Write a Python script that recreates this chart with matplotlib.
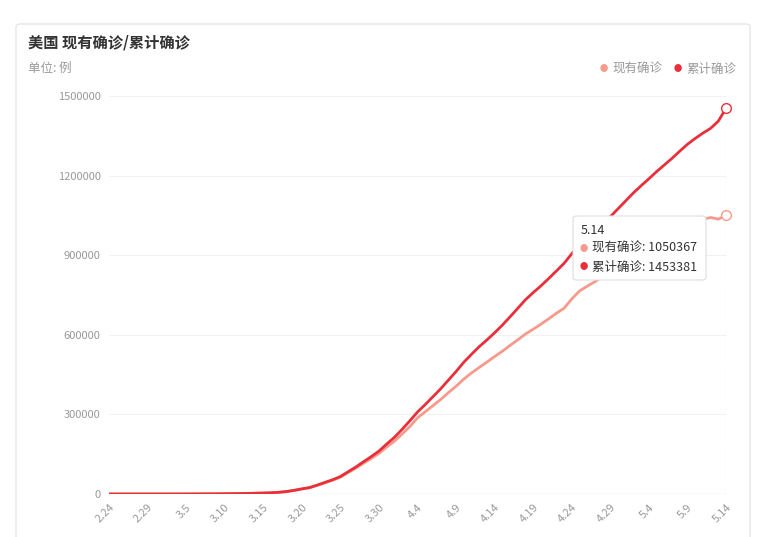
import matplotlib
matplotlib.use("Agg")
import matplotlib.pyplot as plt
from matplotlib.patches import FancyBboxPatch
import datetime as dt

plt.rcParams['font.family'] = ['Noto Sans CJK SC']

start = dt.date(2020, 2, 24)
dates = [start + dt.timedelta(days=i) for i in range(81)]
labels = [f"{d.month}.{d.day}" for d in dates]

cumulative = [35,53,57,60,60,62,75,
 100,124,158,221,319,435,541,704,994,
 1301,1697,2247,2943,3680,4663,6411,9259,13789,19383,
 24207,33566,43734,53740,65778,83836,101657,121478,140886,161807,188172,
 213372,243453,275586,308850,337072,366667,396223,429052,461437,496535,
 526396,555313,580619,607670,636350,667801,699706,732197,759086,784326,
 811865,840351,869170,905358,938154,965785,990000,1015000,1045000,1075000,
 1105000,1135000,1162000,1188000,1215000,1240000,1265000,1292000,1318000,1340000,
 1360000,1378000,1405000,1453381]
active = [30,46,50,52,52,53,64,
 86,108,140,198,290,400,500,655,930,
 1220,1600,2120,2800,3500,4450,6150,8900,13300,18700,
 23400,32400,42200,51800,63300,80600,97400,115900,133800,153000,177000,
 199000,226000,254000,287000,310000,333000,356000,382000,406000,433000,
 456000,477000,497000,518000,538000,560000,581000,603000,621000,640000,
 660000,681000,700000,735000,765000,783000,800000,820000,840000,862000,
 885000,905000,922000,940000,958000,975000,990000,1005000,1018000,1028000,
 1036000,1042000,1036000,1050367]

c_act = '#f79a8c'
c_cum = '#e8303a'

fig = plt.figure(figsize=(7.66, 5.37), dpi=100)
card = FancyBboxPatch((16/766, -0.02), 734/766, 1-24/537+0.02,
    boxstyle="round,pad=0,rounding_size=0.006", transform=fig.transFigure,
    facecolor='white', edgecolor='#e6e6e6', lw=1, zorder=-10)
fig.patches.append(card)
ax = fig.add_axes([109/766, 43/537, 617/766, 398/537])
ax.set_facecolor('none')
x = list(range(len(labels)))
ax.plot(x, active, color=c_act, lw=2, solid_joinstyle='round')
ax.plot(x, cumulative, color=c_cum, lw=2, solid_joinstyle='round')
ax.set_xlim(0, 80)
ax.set_ylim(0, 1500000)
ax.set_yticks([0, 300000, 600000, 900000, 1200000, 1500000])
ax.set_yticklabels(['0', '300000', '600000', '900000', '1200000', '1500000'])
ax.set_xticks(x[::5])
ax.set_xticklabels(labels[::5], rotation=45, ha='right', rotation_mode='anchor')
ax.tick_params(axis='both', colors='#999999', labelsize=8, length=0, pad=6)
ax.grid(axis='y', color='#f2f2f2', lw=0.8)
ax.set_axisbelow(True)
for s in ax.spines.values():
    s.set_visible(False)
ax.axhline(0, color='#eeeeee', lw=1, zorder=0)
ax.axvline(80, color='#aaaaaa', lw=0.8, ls=(0, (2, 2)))
ax.plot([80], [active[-1]], 'o', ms=7, mfc='white', mec=c_act, clip_on=False)
ax.plot([80], [cumulative[-1]], 'o', ms=7, mfc='white', mec=c_cum, clip_on=False)

fig.text(28/766, 1-42/537, '美国 现有确诊/累计确诊', fontsize=11, fontweight='bold', color='#333333', va='center')
fig.text(28/766, 1-68/537, '单位: 例', fontsize=9, color='#999999', va='center')
fig.text(604/766, 1-69/537, '●', fontsize=6, color=c_act, va='center', ha='center')
fig.text(612/766, 1-69/537, '现有确诊', fontsize=9, color='#999999', va='center')
fig.text(678/766, 1-69/537, '●', fontsize=6, color=c_cum, va='center', ha='center')
fig.text(686/766, 1-69/537, '累计确诊', fontsize=9, color='#999999', va='center')

fig.patches.append(FancyBboxPatch((573/766, 1-280/537), 133/766, 64/537,
    boxstyle="round,pad=0,rounding_size=0.005", transform=fig.transFigure,
    facecolor='white', edgecolor='#dddddd', lw=0.8, zorder=5))
fig.text(581/766, 1-230/537, labels[-1], fontsize=9, color='#333333', va='center', zorder=6)
fig.text(584/766, 1-248/537, '●', fontsize=6, color=c_act, va='center', ha='center', zorder=6)
fig.text(592/766, 1-248/537, f'现有确诊: {active[-1]}', fontsize=9, color='#333333', va='center', zorder=6)
fig.text(584/766, 1-267/537, '●', fontsize=6, color=c_cum, va='center', ha='center', zorder=6)
fig.text(592/766, 1-267/537, f'累计确诊: {cumulative[-1]}', fontsize=9, color='#333333', va='center', zorder=6)

fig.savefig('out.png', dpi=100)
